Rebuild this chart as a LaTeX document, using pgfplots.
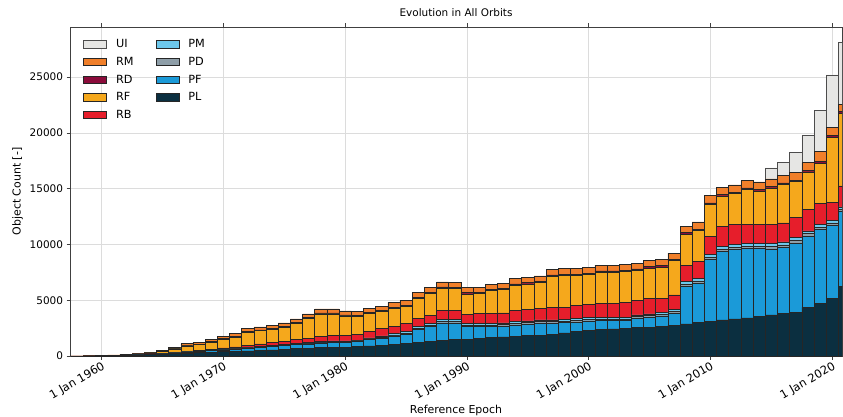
\documentclass[border=0pt]{standalone}
\usepackage{fontspec}
\setmainfont{DejaVu Sans}
\usepackage{pgfplots}
\usepackage{pgfplotstable}
\pgfplotsset{compat=1.18}
\definecolor{cPL}{HTML}{0B2F40}
\definecolor{cPF}{HTML}{1B9AD8}
\definecolor{cPD}{HTML}{8E9EA8}
\definecolor{cPM}{HTML}{6DC8EC}
\definecolor{cRB}{HTML}{E61E2B}
\definecolor{cRF}{HTML}{F5A81C}
\definecolor{cRD}{HTML}{8B0C3B}
\definecolor{cRM}{HTML}{F07F2A}
\definecolor{cUI}{HTML}{E6E6E4}
\definecolor{gridc}{HTML}{DCDCDC}

\pgfplotstableread{
year PL PF PD PM RB RF RD RM UI
1958 5 0 0 0 2 3 0 0 0
1959 10 0 0 0 3 5 0 2 0
1960 20 0 0 0 5 10 0 5 0
1961 40 5 0 0 10 25 0 10 0
1962 60 10 0 0 15 40 5 20 0
1963 90 15 5 5 20 50 5 30 0
1964 120 20 5 5 30 100 10 50 0
1965 160 30 10 10 40 175 15 80 0
1966 200 50 10 10 50 310 20 120 0
1967 250 80 15 15 70 480 30 160 0
1968 300 100 20 20 80 500 30 180 0
1969 340 130 20 20 100 630 40 200 0
1970 380 160 30 30 120 790 40 220 0
1971 420 190 30 30 150 880 50 250 0
1972 460 230 40 40 200 1170 60 260 0
1973 500 260 40 40 240 1200 60 270 0
1974 550 290 50 50 270 1170 70 280 0
1975 600 330 50 50 300 1270 70 300 0
1976 650 360 60 60 330 1460 80 320 0
1977 700 390 60 60 370 1770 80 340 0
1978 740 430 70 70 450 2020 90 350 0
1979 770 440 70 70 480 1950 90 350 0
1980 800 420 70 70 480 1760 90 350 0
1981 840 440 70 80 500 1630 90 360 0
1982 900 560 80 90 580 1620 90 370 0
1983 950 660 90 100 640 1540 100 380 0
1984 1020 780 100 110 680 1600 100 410 0
1985 1100 850 110 120 740 1540 100 420 0
1986 1230 1150 120 130 740 1790 100 440 0
1987 1320 1300 130 140 760 1970 110 450 0
1988 1400 1560 140 150 840 1990 110 460 0
1989 1460 1500 140 150 850 1930 110 460 0
1990 1500 1140 140 150 820 1820 110 460 0
1991 1590 1050 140 150 900 1770 110 470 0
1992 1650 990 140 150 900 2030 110 480 0
1993 1720 960 140 150 900 2080 110 480 0
1994 1790 990 140 150 990 2290 110 490 0
1995 1850 1000 150 150 1050 2260 120 500 0
1996 1880 1050 150 150 1050 2290 120 500 0
1997 1950 990 150 150 1110 2810 120 520 0
1998 2080 900 150 150 1050 2880 120 520 0
1999 2200 840 150 150 1200 2670 120 520 0
2000 2280 870 150 150 1200 2650 120 520 0
2001 2400 780 150 150 1260 2770 120 520 0
2002 2430 750 150 150 1260 2770 120 520 0
2003 2460 720 150 150 1320 2770 120 520 0
2004 2550 840 150 150 1290 2710 120 520 0
2005 2580 900 150 150 1350 2750 120 540 0
2006 2640 960 160 160 1260 2780 130 540 0
2007 2760 1080 160 160 1320 3060 130 560 0
2008 2880 3360 200 250 1440 2800 130 570 0
2009 3000 3540 200 250 1500 2760 130 640 0
2010 3120 5510 220 250 1650 2830 140 690 0
2011 3240 6140 220 250 1800 2700 140 640 0
2012 3330 6200 220 250 1800 2760 140 640 0
2013 3420 6200 220 250 1710 3130 140 660 0
2014 3540 6090 220 250 1710 3000 140 660 0
2015 3690 5910 220 250 1710 3300 140 660 990
2016 3840 5910 220 260 1710 3440 140 660 1200
2017 3930 6200 230 260 1800 3200 140 670 1790
2018 4350 6380 230 260 1950 3330 150 680 2460
2019 4740 6590 200 240 1890 3600 200 850 3720
2020 5190 6540 200 200 1650 5840 150 740 4690
2021 6240 6740 180 200 1900 6500 170 630 5550
}\datatable

\begin{document}
\begin{tikzpicture}
\begin{axis}[
  at={(0,0)}, anchor=south west,
  scale only axis, width=772bp, height=329bp,
  xmin=1957.4, xmax=2020.8, ymin=0, ymax=29500,
  ybar stacked, bar width=1,
  axis line style={draw=black!75, line width=0.6pt},
  grid=major, major grid style={draw=gridc, line width=0.8pt},
  tick align=outside, major tick length=3.5bp,
  tick style={draw=black!75, line width=0.6pt},
  xtick={1960,1970,1980,1990,2000,2010,2020},
  xticklabels={1 Jan 1960,1 Jan 1970,1 Jan 1980,1 Jan 1990,1 Jan 2000,1 Jan 2010,1 Jan 2020},
  xticklabel style={rotate=30, anchor=north east, font=\fontsize{11.5}{13}\selectfont, inner sep=1bp},
  ytick={0,5000,10000,15000,20000,25000},
  scaled y ticks=false,
  yticklabel style={/pgf/number format/1000 sep={}, /pgf/number format/assume math mode=true, font=\fontsize{10.5}{12}\selectfont},
  xlabel={Reference Epoch}, ylabel={Object Count [-]},
  xlabel style={font=\fontsize{11}{13}\selectfont, at={(axis description cs:0.5,0)}, anchor=center, yshift=-54bp},
  ylabel style={font=\fontsize{11}{13}\selectfont},
  title={Evolution in All Orbits},
  title style={font=\fontsize{10.5}{12}\selectfont, yshift=1bp},
  legend image code/.code={\draw[#1] (0bp,-3.7bp) rectangle (23bp,3.7bp);},
  legend cell align=left,
  legend style={at={(0.013,0.975)}, anchor=north west, draw=none, fill=none,
    font=\fontsize{11.3}{13}\selectfont, legend columns=2,
    row sep=4bp,
    /tikz/every odd column/.append style={column sep=7bp},
    /tikz/every even column/.append style={column sep=20bp},
    nodes={inner sep=2bp}},
  every axis plot/.append style={draw=black!85, line width=0.6pt},
]
\addplot[fill=cPL, forget plot] table[x=year,y=PL]{\datatable};
\addplot[fill=cPF, forget plot] table[x=year,y=PF]{\datatable};
\addplot[fill=cPD, forget plot] table[x=year,y=PD]{\datatable};
\addplot[fill=cPM, forget plot] table[x=year,y=PM]{\datatable};
\addplot[fill=cRB, forget plot] table[x=year,y=RB]{\datatable};
\addplot[fill=cRF, forget plot] table[x=year,y=RF]{\datatable};
\addplot[fill=cRD, forget plot] table[x=year,y=RD]{\datatable};
\addplot[fill=cRM, forget plot] table[x=year,y=RM]{\datatable};
\addplot[fill=cUI, draw=black!70, forget plot] table[x=year,y=UI]{\datatable};
\addlegendimage{fill=cUI, draw=black!70, line width=0.8pt}\addlegendentry{UI}
\addlegendimage{fill=cPM, draw=black!85, line width=0.8pt}\addlegendentry{PM}
\addlegendimage{fill=cRM, draw=black!85, line width=0.8pt}\addlegendentry{RM}
\addlegendimage{fill=cPD, draw=black!85, line width=0.8pt}\addlegendentry{PD}
\addlegendimage{fill=cRD, draw=black!85, line width=0.8pt}\addlegendentry{RD}
\addlegendimage{fill=cPF, draw=black!85, line width=0.8pt}\addlegendentry{PF}
\addlegendimage{fill=cRF, draw=black!85, line width=0.8pt}\addlegendentry{RF}
\addlegendimage{fill=cPL, draw=black!85, line width=0.8pt}\addlegendentry{PL}
\addlegendimage{fill=cRB, draw=black!85, line width=0.8pt}\addlegendentry{RB}
\end{axis}
\pgfresetboundingbox
\path[use as bounding box] (-70bp,-61bp) rectangle (773bp,356bp);
\end{tikzpicture}
\end{document}
